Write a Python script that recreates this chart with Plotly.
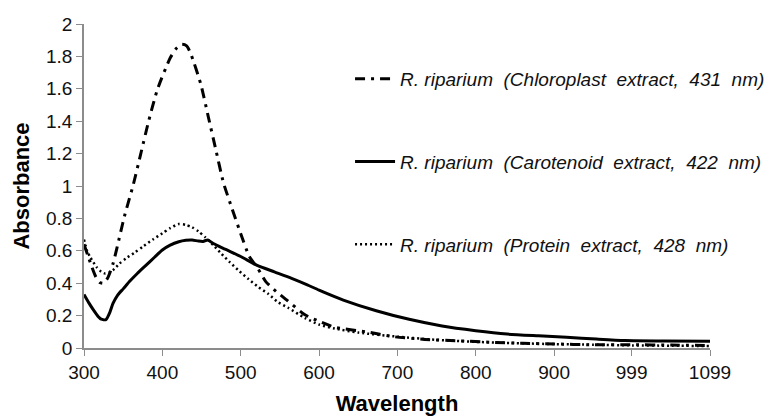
import plotly.graph_objects as go

# Chloroplast extract (dash-dot)
chl_wl = [300, 305, 310, 315, 320, 325, 330, 337, 347, 352, 363, 373, 383, 394, 410, 418, 425, 431,
          436, 449, 459, 468, 478, 489, 499, 511, 522, 532, 545, 559, 582, 600, 620, 660, 695, 735,
          780, 820, 860, 900, 950, 1000, 1050, 1099]
chl_abs = [0.64, 0.57, 0.50, 0.44, 0.405, 0.40, 0.43, 0.52, 0.72, 0.82, 1.01, 1.21, 1.41, 1.60, 1.79, 1.85, 1.875, 1.865,
           1.82, 1.63, 1.42, 1.23, 1.02, 0.86, 0.72, 0.565, 0.49, 0.41, 0.35, 0.296, 0.205, 0.165, 0.128, 0.10, 0.07, 0.053,
           0.044, 0.035, 0.029, 0.025, 0.02, 0.02, 0.018, 0.015]

# Carotenoid extract (solid)
car_wl = [300, 306, 312, 318, 322, 328, 333, 337, 343, 350, 358, 368, 379, 390, 400, 410, 421, 430, 438,
          446, 452, 458, 465, 480, 500, 521, 543, 565, 585, 600, 631, 673, 715, 757, 800, 840, 880, 916,
          954, 990, 1040, 1099]
car_abs = [0.33, 0.28, 0.235, 0.195, 0.178, 0.175, 0.22, 0.275, 0.327, 0.365, 0.41, 0.46, 0.51, 0.56, 0.605, 0.635, 0.656, 0.665, 0.667,
           0.66, 0.658, 0.667, 0.645, 0.61, 0.565, 0.51, 0.47, 0.43, 0.39, 0.357, 0.296, 0.23, 0.177, 0.136, 0.107, 0.086, 0.075, 0.066,
           0.055, 0.046, 0.043, 0.042]

# Protein extract (dotted)
pro_wl = [300, 304, 308, 316, 322, 327, 332, 337, 345, 354, 365, 375, 388, 400, 410, 421, 430, 438, 446,
          455, 465, 475, 486, 497, 510, 522, 535, 547, 560, 582, 600, 620, 650, 700, 750, 800, 850, 900,
          950, 1000, 1050, 1099]
pro_abs = [0.67, 0.60, 0.56, 0.50, 0.47, 0.46, 0.465, 0.48, 0.52, 0.555, 0.59, 0.625, 0.67, 0.708, 0.74, 0.765, 0.76, 0.745, 0.72,
           0.683, 0.635, 0.584, 0.53, 0.48, 0.425, 0.378, 0.335, 0.285, 0.25, 0.185, 0.145, 0.12, 0.095, 0.07, 0.05, 0.038, 0.03, 0.024,
           0.02, 0.016, 0.014, 0.012]

x_tick_vals = [300, 400, 500, 600, 700, 800, 900, 999, 1099]
x_tick_text = ["300", "400", "500", "600", "700", "800", "900", "999", "1099"]
y_tick_vals = [0, 0.2, 0.4, 0.6, 0.8, 1, 1.2, 1.4, 1.6, 1.8, 2]
y_tick_text = ["0", "0.2", "0.4", "0.6", "0.8", "1", "1.2", "1.4", "1.6", "1.8", "2"]

names = [
    "R. riparium\u00a0 (Chloroplast\u00a0 extract,\u00a0 431\u00a0 nm)",
    "R. riparium\u00a0 (Carotenoid\u00a0 extract,\u00a0 422\u00a0 nm)",
    "R. riparium\u00a0 (Protein\u00a0 extract,\u00a0 428\u00a0 nm)",
]

FONT = "Liberation Sans, Arial, sans-serif"

fig = go.Figure()
fig.add_trace(go.Scatter(x=chl_wl, y=chl_abs, mode="lines", name=names[0], legendgroup="a",
                         line=dict(color="black", width=3, dash="10px,6px,3px,6px", shape="spline", smoothing=0.6)))
fig.add_trace(go.Scatter(x=car_wl, y=car_abs, mode="lines", name=names[1], legendgroup="b",
                         line=dict(color="black", width=3, shape="spline", smoothing=0.6)))
fig.add_trace(go.Scatter(x=pro_wl, y=pro_abs, mode="lines", name=names[2], legendgroup="c",
                         line=dict(color="black", width=2.5, dash="2px,3px", shape="spline", smoothing=0.6)))

fig.update_layout(
    width=774, height=417,
    margin=dict(l=76, r=63, t=16, b=77),
    paper_bgcolor="white", plot_bgcolor="white",
    font=dict(family=FONT, color="black", size=19),
    showlegend=True,
    legend=dict(x=0.425, y=0.889, xanchor="left", yanchor="top",
                bgcolor="rgba(0,0,0,0)", borderwidth=0,
                font=dict(family=FONT, size=19, style="italic", color="#111111"),
                traceorder="grouped", tracegroupgap=55, itemwidth=40),
    xaxis=dict(range=[300, 1099], tickmode="array", tickvals=x_tick_vals, ticktext=x_tick_text,
               showgrid=False, zeroline=False, showline=True, linecolor="#8c8c8c", linewidth=1.5,
               ticks="outside", ticklen=6, tickcolor="#8c8c8c", tickfont=dict(size=19, color="#111111"),
               automargin=False,
               title=dict(text="<b>Wavelength</b>", font=dict(size=22), standoff=14)),
    yaxis=dict(range=[0, 2], tickmode="array", tickvals=y_tick_vals, ticktext=y_tick_text,
               showgrid=False, zeroline=False, showline=True, linecolor="#8c8c8c", linewidth=1.5,
               ticks="outside", ticklen=6, tickcolor="#8c8c8c", tickfont=dict(size=19, color="#111111"),
               automargin=False,
               title=dict(text="<b>Absorbance</b>", font=dict(size=22), standoff=10)),
)

fig.write_html("out.html")
